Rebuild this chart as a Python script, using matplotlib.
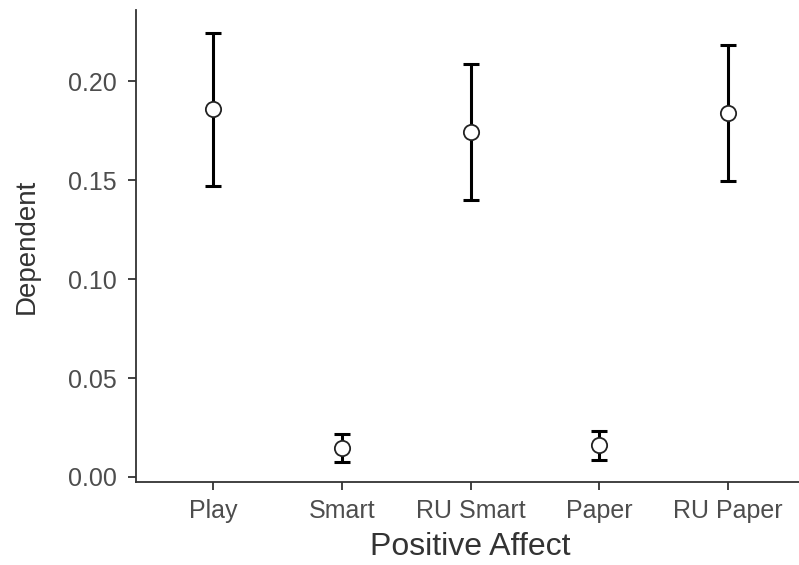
import numpy as np
from matplotlib import pyplot as plt

plt.rcParams['font.family'] = ['Liberation Sans', 'DejaVu Sans']

groups = ['Play', 'Smart', 'RU Smart', 'Paper', 'RU Paper']
means = [0.186, 0.0148, 0.1744, 0.0162, 0.184]
upper = [0.2246, 0.0219, 0.2086, 0.0234, 0.2185]
lower = [0.1471, 0.0077, 0.1402, 0.0084, 0.1497]
yticks = [0.00, 0.05, 0.10, 0.15, 0.20]

x = np.arange(1, len(groups) + 1)
means = np.array(means)
err = [means - np.array(lower), np.array(upper) - means]

fig = plt.figure(figsize=(7.99, 5.65), dpi=100)
ax = fig.add_axes([0.170, 0.147, 0.838, 0.835])

ax.errorbar(x, means, yerr=err, fmt='none', ecolor='black', elinewidth=2.2,
            capsize=6, capthick=2.2, zorder=2)
ax.plot(x, means, 'o', ms=11, mfc='white', mec='#222222', mew=1.3, zorder=3)

ax.set_xlim(0.4, 5.6)
ax.set_ylim(-0.0025, 0.236)
ax.set_xticks(x)
ax.set_xticklabels(groups)
ax.set_yticks(yticks)
ax.set_yticklabels(['{:.2f}'.format(v) for v in yticks])

for s in ['top', 'right']:
    ax.spines[s].set_visible(False)
for s in ['left', 'bottom']:
    ax.spines[s].set_color('#333333')
    ax.spines[s].set_linewidth(1.3)

ax.tick_params(axis='both', colors='#333333', labelcolor='#4d4d4d',
               labelsize=18, length=6, width=1.3)
ax.tick_params(axis='x', pad=6)
ax.tick_params(axis='y', pad=8)
ax.set_xlabel('Positive Affect', fontsize=23, color='#333333', labelpad=7)
ax.set_ylabel('Dependent', fontsize=20, color='#333333', labelpad=20)

plt.savefig('out.png', dpi=100)
